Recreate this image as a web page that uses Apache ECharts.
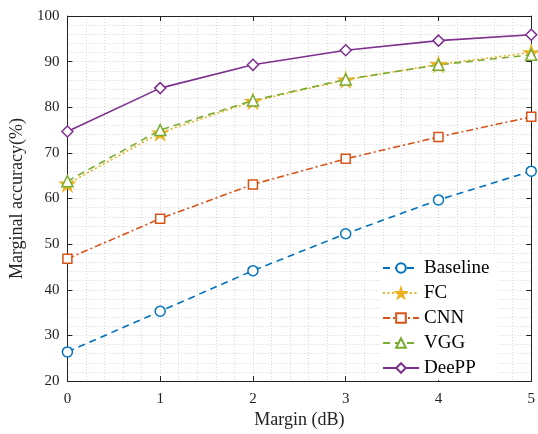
<!DOCTYPE html>
<html>
<head>
<meta charset="utf-8">
<script src="https://cdn.jsdelivr.net/npm/echarts@6/dist/echarts.min.js"></script>
<style>
html,body{margin:0;padding:0;background:#fff;}
#main{width:538px;height:434px;}
</style>
</head>
<body>
<div id="main"></div>
<script>
// margin (dB) on x axis
var margins = [0, 1, 2, 3, 4, 5];
// marginal accuracy (%) per method
var baseline = [26.4, 35.3, 44.2, 52.3, 59.7, 66.0];
var fc = [63.2, 74.4, 81.3, 86.0, 89.4, 92.0];
var cnn = [46.8, 55.6, 63.1, 68.7, 73.5, 77.9];
var vgg = [63.8, 75.0, 81.5, 86.1, 89.3, 91.5];
var deepp = [74.7, 84.2, 89.3, 92.5, 94.6, 95.9];
var names = ['Baseline', 'FC', 'CNN', 'VGG', 'DeePP'];

var starPath = 'path://M50,0 L61,35 L98,35 L68,57 L79,91 L50,70 L21,91 L32,57 L2,35 L39,35 Z';
var font = '"Liberation Serif", "DejaVu Serif", serif';

function pairs(vals) {
	var out = [];
	for (var i in vals) {
		out.push([margins[i], vals[i]]);
	}
	return out;
}

function makeSeries(name, vals, color, lineType, symbol, size, filled) {
	return {
		name : name,
		type : 'line',
		data : pairs(vals),
		symbol : symbol,
		symbolSize : size,
		showAllSymbol : true,
		lineStyle : { color : color, width : 1.6, type : lineType },
		itemStyle : { color : filled ? color : '#fff', borderColor : color, borderWidth : 1.5 },
		emphasis : { disabled : true },
		z : 3
	};
}

var gridLine = { show : true, lineStyle : { color : '#d4d4d4', type : [1, 2], width : 1 } };

var myChart = echarts.init(document.getElementById('main'));
var option = {
	animation : false,
	backgroundColor : '#fff',
	textStyle : { fontFamily : font },
	grid : { left : 66, right : 3, top : 16, bottom : 51, show : false },
	legend : {
		orient : 'vertical',
		left : 380,
		top : 256,
		itemWidth : 36,
		itemHeight : 12,
		itemGap : 5,
		backgroundColor : '#fff',
		padding : [2, 8, 2, 2],
		textStyle : { fontFamily : font, fontSize : 19, lineHeight : 20, color : '#000' },
		data : names
	},
	xAxis : [{
		type : 'value',
		min : 0, max : 5, interval : 1,
		name : 'Margin (dB)',
		nameLocation : 'middle',
		nameGap : 28,
		nameTextStyle : { fontFamily : font, fontSize : 18, color : '#222' },
		axisLine : { show : true, onZero : false, lineStyle : { color : '#222', width : 1 } },
		axisTick : { show : true, inside : true, length : 5, lineStyle : { color : '#222' } },
		minorTick : { show : false, splitNumber : 5 },
		axisLabel : { fontFamily : font, fontSize : 15, color : '#222', margin : 10 },
		splitLine : gridLine,
		minorSplitLine : gridLine
	}, {
		type : 'value',
		position : 'top',
		min : 0, max : 5, interval : 1,
		axisLine : { show : true, onZero : false, lineStyle : { color : '#222', width : 1 } },
		axisTick : { show : true, inside : true, length : 5, lineStyle : { color : '#222' } },
		axisLabel : { show : false },
		splitLine : { show : false }
	}],
	yAxis : [{
		type : 'value',
		min : 20, max : 100, interval : 10,
		name : 'Marginal accuracy(%)',
		nameLocation : 'middle',
		nameGap : 30,
		nameTextStyle : { fontFamily : font, fontSize : 18, color : '#222' },
		axisLine : { show : true, onZero : false, lineStyle : { color : '#222', width : 1 } },
		axisTick : { show : true, inside : true, length : 5, lineStyle : { color : '#222' } },
		minorTick : { show : false, splitNumber : 5 },
		axisLabel : { fontFamily : font, fontSize : 15, color : '#222', margin : 8 },
		splitLine : gridLine,
		minorSplitLine : gridLine
	}, {
		type : 'value',
		position : 'right',
		min : 20, max : 100, interval : 10,
		axisLine : { show : true, onZero : false, lineStyle : { color : '#222', width : 1 } },
		axisTick : { show : true, inside : true, length : 5, lineStyle : { color : '#222' } },
		axisLabel : { show : false },
		splitLine : { show : false }
	}],
	series : [
		makeSeries('Baseline', baseline, '#0072BD', [7, 5], 'circle', 10, false),
		makeSeries('FC', fc, '#EDB120', [2, 2.5], starPath, 14, true),
		makeSeries('CNN', cnn, '#D95319', [7, 3, 2, 3], 'rect', 9, false),
		makeSeries('VGG', vgg, '#77AC30', [7, 5], 'triangle', 11, false),
		makeSeries('DeePP', deepp, '#7E2F8E', 'solid', 'diamond', 11, false)
	]
};
myChart.setOption(option);
</script>
</body>
</html>
